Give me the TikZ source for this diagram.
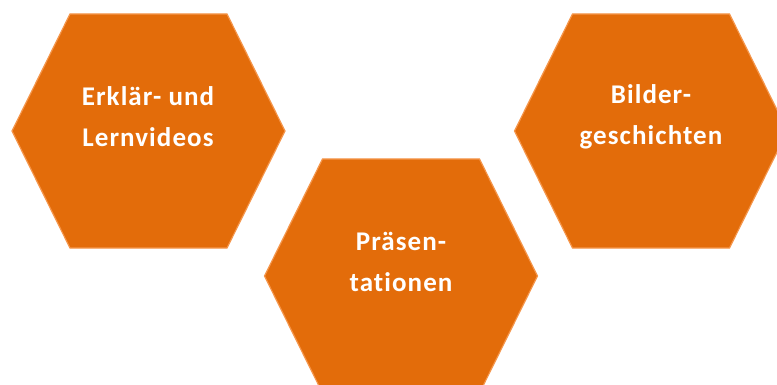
\documentclass[tikz,border=0pt]{standalone}
\usepackage{fontspec}
\setmainfont[Ligatures=CommonOff,LetterSpace=4]{Carlito}
\definecolor{hexfill}{RGB}{227,108,10}
\definecolor{hexline}{RGB}{245,150,75}
\begin{document}
\begin{tikzpicture}[x=1pt,y=-1pt,
    hexlabel/.style={align=center,text=white,font=\bfseries\fontsize{27}{41}\selectfont}]

\clip (0,0) rectangle (777,385);
\fill[white] (0,0) rectangle (777,385);
  \foreach \cx/\cy in {148.5/131, 401/276, 651/131}
{
    \draw[fill=hexfill, draw=hexline, line width=1.2pt]
      (\cx-136.5,\cy)--(\cx-78.5,\cy-117)--(\cx+78.5,\cy-117)
      --(\cx+136.5,\cy)--(\cx+78.5,\cy+117)--(\cx-78.5,\cy+117)--cycle;
}
\node[hexlabel] (video) at (148,117) {Erklär- und\\Lernvideos};
\node[hexlabel] (praes) at (401,262) {Präsen-\\tationen};
\node[hexlabel] (bild) at (651,117) {Bilder-\\geschichten};
\end{tikzpicture}
\end{document}
